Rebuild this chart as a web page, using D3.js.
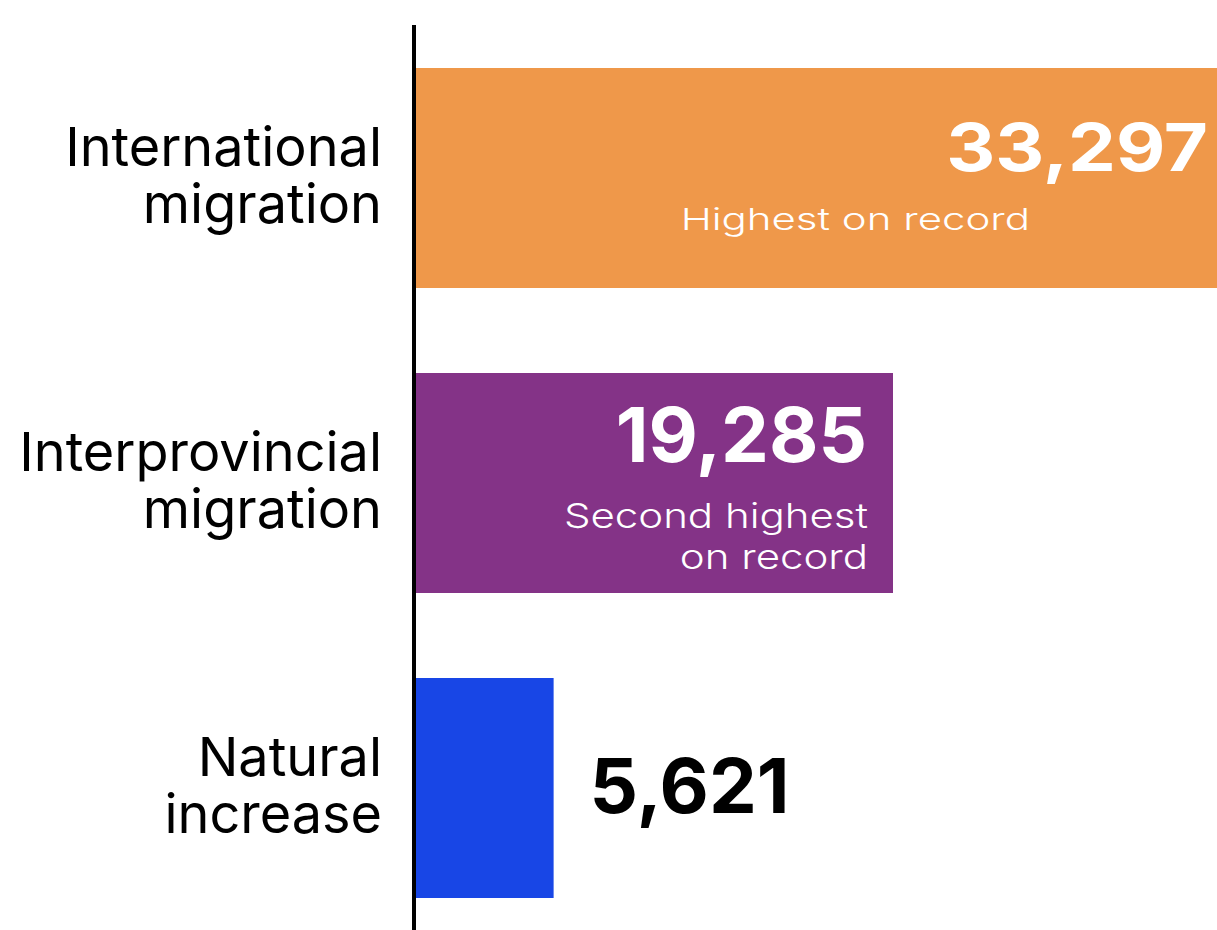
<!DOCTYPE html>
<html>
<head>
<meta charset="utf-8">
<script src="https://cdn.jsdelivr.net/npm/d3@7"></script>
<style>
  html, body { margin: 0; padding: 0; background: #fff; }
  svg { display: block; }
  text { font-family: Inter, "Noto Sans", sans-serif; }
</style>
</head>
<body>
<svg id="chart" width="1217" height="930"></svg>
<script>
// Population growth components
const categories = ["International migration", "Interprovincial migration", "Natural increase"];
const labelLines = [["International", "migration"], ["Interprovincial", "migration"], ["Natural", "increase"]];
const values = [33297, 19285, 5621];
const notes = [["Highest on record"], ["Second highest", "on record"], []];
const colors = ["#EF984A", "#843387", "#1846E6"];

const W = 1217, H = 930;
const svg = d3.select("#chart");
const fmt = d3.format(",");

const x = d3.scaleLinear().domain([0, 19285]).range([414, 893]);
const y = d3.scaleBand().domain(categories).range([68, 898]).paddingInner(0.2787);

// bars
svg.selectAll("rect.bar")
  .data(categories)
  .join("rect")
  .attr("class", "bar")
  .attr("x", x(0))
  .attr("y", d => y(d))
  .attr("width", (d, i) => x(values[i]) - x(0))
  .attr("height", y.bandwidth())
  .attr("fill", (d, i) => colors[i]);

// baseline axis
svg.append("line")
  .attr("x1", x(0)).attr("x2", x(0))
  .attr("y1", 25).attr("y2", H)
  .attr("stroke", "#000").attr("stroke-width", 4);

// category labels
categories.forEach((c, i) => {
  const cy = y(c) + y.bandwidth() / 2;
  const t = svg.append("text")
    .attr("x", 382)
    .attr("text-anchor", "end")
    .attr("font-size", 54)
    .attr("font-weight", 400)
    .attr("fill", "#000");
  labelLines[i].forEach((line, j) => {
    t.append("tspan").attr("x", 382).attr("y", cy - 12 + j * 57).text(line);
  });
});

// value labels: big number plus optional note inside wide bars, number alone beside short ones
categories.forEach((c, i) => {
  const top = y(c);
  const inside = values[i] > 10000;
  if (inside) {
    const clipped = x(values[i]) > W;
    const numEnd = clipped ? W - 9 : x(values[i]) - 26;
    const sy = clipped ? 0.87 : 1;
    const noteSy = clipped ? 0.72 : 0.82;
    const numBase = top + (clipped ? 103 : 89);
    svg.append("text")
      .attr("transform", `translate(${numEnd},${numBase}) scale(1,${sy})`)
      .attr("text-anchor", "end")
      .attr("font-size", 76)
      .attr("font-weight", 700)
      .attr("fill", "#fff")
      .text(fmt(values[i]));
    const noteEnd = clipped ? 1030 : numEnd + 1;
    notes[i].forEach((n, j) => {
      svg.append("text")
        .attr("transform", `translate(${noteEnd},${top + (clipped ? 162 : 155) + j * 41}) scale(1,${noteSy})`)
        .attr("text-anchor", "end")
        .attr("font-size", 42)
        .attr("font-weight", 300)
        .attr("fill", "#fff")
        .text(n);
    });
  } else {
    svg.append("text")
      .attr("x", x(values[i]) + 36)
      .attr("y", top + 135)
      .attr("text-anchor", "start")
      .attr("font-size", 76)
      .attr("font-weight", 700)
      .attr("fill", "#000")
      .text(fmt(values[i]));
  }
});
</script>
</body>
</html>
